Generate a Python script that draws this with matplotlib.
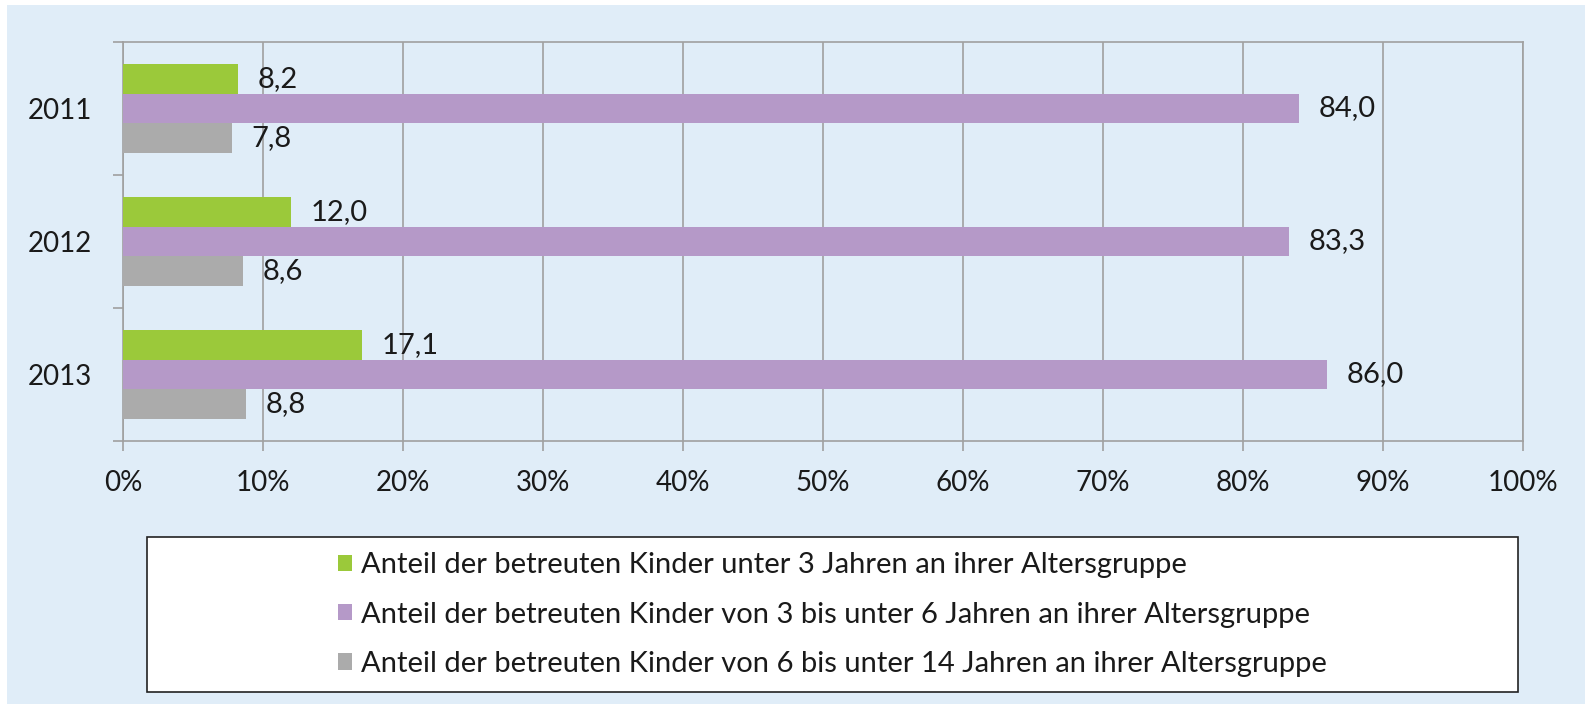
import matplotlib.pyplot as plt
from matplotlib.patches import Rectangle
import numpy as np

plt.rcParams['font.family'] = ['Lato', 'DejaVu Sans']

years = ['2011', '2012', '2013']
under3 = [8.2, 12.0, 17.1]
age3to6 = [84.0, 83.3, 86.0]
age6to14 = [7.8, 8.6, 8.8]
series_names = [
    'Anteil der betreuten Kinder unter 3 Jahren an ihrer Altersgruppe',
    'Anteil der betreuten Kinder von 3 bis unter 6 Jahren an ihrer Altersgruppe',
    'Anteil der betreuten Kinder von 6 bis unter 14 Jahren an ihrer Altersgruppe',
]
colors = ['#9bc93a', '#b599c8', '#ababab']
grid_col = '#a0a0a0'
text_col = '#1a1a1a'


def comma(v):
    return f'{v:.1f}'.replace('.', ',')


def get_chart():
    fig = plt.figure(figsize=(15.85, 7.04), dpi=100, facecolor='white')
    # light blue backdrop with thin white edge
    fig.patches.append(Rectangle((7 / 1585, 0), 1 - 7 / 1585, 1 - 5 / 704,
                                 transform=fig.transFigure, facecolor='#e0edf8',
                                 edgecolor='none', zorder=-10))

    ax = fig.add_axes([123 / 1585, 1 - 441 / 704, 1400 / 1585, 399 / 704])
    ax.set_facecolor('none')

    y = np.arange(len(years))
    h = 0.225
    values = [under3, age3to6, age6to14]
    for i, (vals, col, name) in enumerate(zip(values, colors, series_names)):
        bars = ax.barh(y + (i - 1) * h, vals, h, color=col, label=name, zorder=3)
        ax.bar_label(bars, fmt=comma, padding=14, fontsize=21, color=text_col)

    ax.set_xlim(0, 100)
    ax.set_ylim(2.5, -0.5)
    ax.set_xticks(np.arange(0, 101, 10))
    ax.set_xticklabels([f'{t}%' for t in range(0, 101, 10)])
    ax.set_yticks(y)
    ax.set_yticklabels(years)
    ax.set_yticks([-0.5, 0.5, 1.5, 2.5], minor=True)
    ax.tick_params(axis='y', which='major', length=0, pad=22, labelsize=20,
                   labelcolor=text_col)
    ax.tick_params(axis='y', which='minor', length=7, color=grid_col, width=1.2)
    ax.tick_params(axis='x', length=7, color=grid_col, width=1.2, pad=14,
                   labelsize=20, labelcolor=text_col)
    ax.grid(axis='x', color=grid_col, linewidth=1.2, zorder=0)
    for s in ax.spines.values():
        s.set_color(grid_col)
        s.set_linewidth(1.2)

    # legend box
    x0, x1 = 147 / 1585, 1518 / 1585
    y0, y1 = 1 - 692 / 704, 1 - 537 / 704
    fig.patches.append(Rectangle((x0, y0), x1 - x0, y1 - y0, transform=fig.transFigure,
                                 facecolor='white', edgecolor='#222222', linewidth=1.2))
    fig.legend(loc='center', bbox_to_anchor=((x0 + x1) / 2, (y0 + y1) / 2),
               frameon=False, fontsize=21, handlelength=0.5, handleheight=0.5,
               handletextpad=0.3, labelspacing=0.8, labelcolor=text_col)

    fig.savefig('out.png', dpi=100, facecolor='white')


if __name__ == '__main__':
    get_chart()
